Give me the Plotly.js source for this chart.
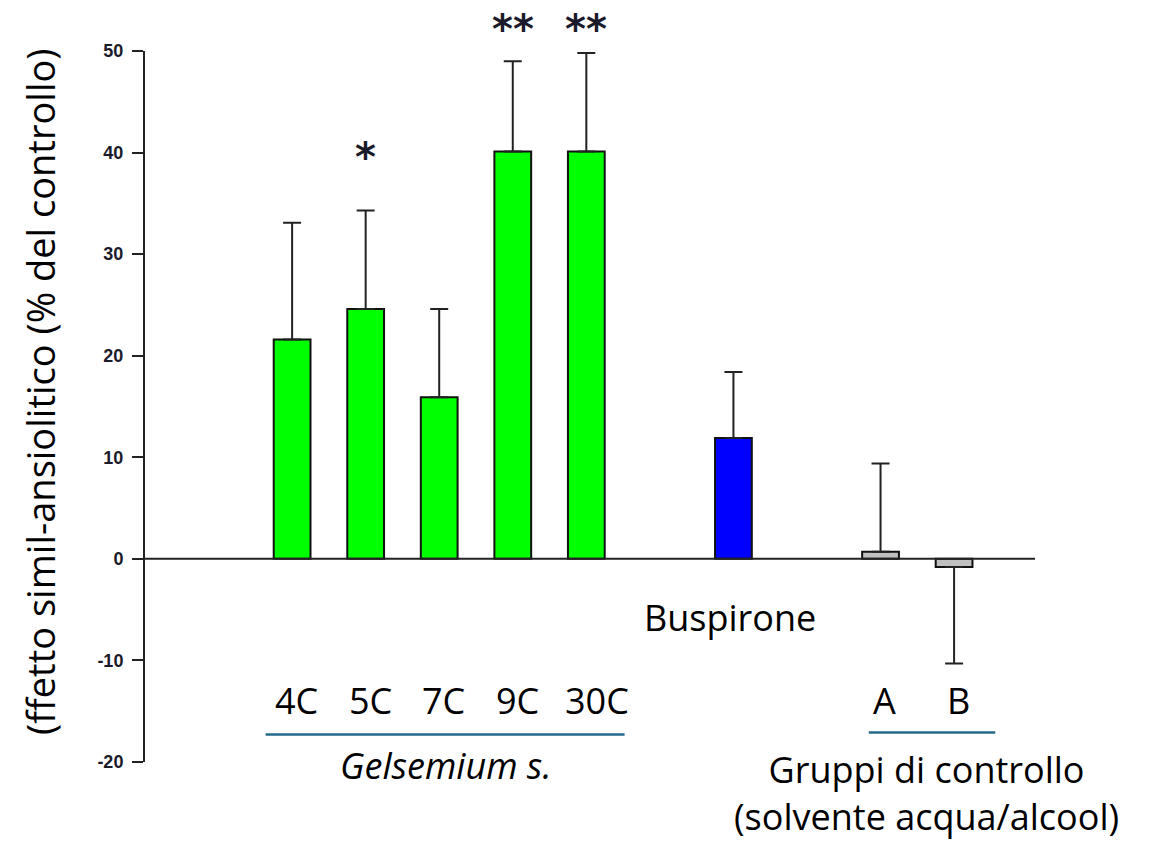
<!DOCTYPE html>
<html>
<head>
<meta charset="utf-8">
<script src="https://cdn.plot.ly/plotly-3.0.1.min.js"></script>
<style>html,body{margin:0;padding:0;background:#fff;}#chart{width:1158px;height:845px;}</style>
</head>
<body>
<div id="chart"></div>
<script>
// ---- data ----
const groups = ["4C", "5C", "7C", "9C", "30C", "Buspirone", "A", "B"];
const slotIndex = [0, 1, 2, 3, 4, 6, 8, 9];
const values = [21.6, 24.6, 15.9, 40.1, 40.1, 11.9, 0.7, -0.8];
const errUp = [11.5, 9.7, 8.7, 8.9, 9.7, 6.5, 8.7, 0];
const errDown = [0, 0, 0, 0, 0, 0, 0, 9.5];
const barColors = ["#00ff00", "#00ff00", "#00ff00", "#00ff00", "#00ff00", "#0000ff", "#c0c0c0", "#c0c0c0"];
const significance = ["", "*", "", "**", "**", "", "", ""];
const yTicks = [-20, -10, 0, 10, 20, 30, 40, 50];
const yTitle = "(ffetto simil-ansiolitico (% del controllo)";
const gelsemiumLabel = "Gelsemium s.";
const controlLabel = ["Gruppi di controllo", "(solvente acqua/alcool)"];

const FONT = "Open Sans, Noto Sans, sans-serif";
const LBL = 36;
const Y0 = -20, Y1 = 50;
const plotL = 145, plotR = 1035, plotT = 51, plotB = 762;
const pxY = p => (plotB - p) / (plotB - plotT);  // pixel y -> paper y
const pxX = p => (p - plotL) / (plotR - plotL);  // pixel x -> paper x

const trace = {
  type: "bar",
  x: slotIndex,
  y: values,
  width: 0.5,
  marker: {color: barColors, line: {color: "#111", width: 2}},
  error_y: {type: "data", symmetric: false, array: errUp, arrayminus: errDown,
            color: "#222", thickness: 2, width: 9},
  hoverinfo: "skip"
};

const ann = (o) => Object.assign({showarrow: false, xanchor: "center", yanchor: "middle"}, o);
const annotations = [];
groups.forEach((g, i) => {
  if (g === "Buspirone") {
    annotations.push(ann({x: slotIndex[i] - 0.04, y: pxY(617), xref: "x", yref: "paper", text: g,
      font: {family: FONT, size: LBL, color: "#000"}}));
  } else {
    annotations.push(ann({x: slotIndex[i] + (g === "30C" ? 0.14 : 0.06), y: pxY(700), xref: "x", yref: "paper", text: g,
      font: {family: FONT, size: LBL, color: "#000"}}));
  }
  if (significance[i]) {
    annotations.push(ann({x: slotIndex[i], y: significance[i].length > 1 ? pxY(29) : pxY(157), xref: "x", yref: "paper",
      text: "<b>" + significance[i] + "</b>",
      font: {family: "DejaVu Sans, sans-serif", size: 40, color: "#1a1a2a"}}));
  }
});
annotations.push(ann({x: 2.08, y: pxY(765), xref: "x", yref: "paper", text: "<i>" + gelsemiumLabel + "</i>",
  font: {family: FONT, size: LBL, color: "#000"}}));
annotations.push(ann({x: 8.62, y: pxY(793), xref: "x", yref: "paper", text: controlLabel.join("<br>"),
  font: {family: FONT, size: LBL, color: "#000"}}));
annotations.push(ann({x: pxX(40), y: pxY(392), xref: "paper", yref: "paper", text: yTitle, textangle: -90,
  font: {family: FONT, size: 38, color: "#000"}}));

const shapes = [
  {type: "line", xref: "x", yref: "y", x0: -0.36, x1: 4.52, y0: -17.3, y1: -17.3, line: {color: "#236a8a", width: 2.5}},
  {type: "line", xref: "x", yref: "y", x0: 7.84, x1: 9.56, y0: -17.1, y1: -17.1, line: {color: "#236a8a", width: 2.5}},
  {type: "line", xref: "paper", yref: "y", x0: 0, x1: 1, y0: 0, y1: 0, line: {color: "#222", width: 2}}
];

const layout = {
  width: 1158, height: 845,
  margin: {l: plotL, r: 1158 - plotR, t: plotT, b: 845 - plotB, pad: 0},
  paper_bgcolor: "#fff", plot_bgcolor: "#fff",
  showlegend: false,
  xaxis: {range: [-2.0, 10.1], showgrid: false, zeroline: false, showline: false, showticklabels: false, ticks: ""},
  yaxis: {range: [Y0, Y1], tickvals: yTicks, ticktext: yTicks.map(String), ticks: "outside", ticklen: 11,
          tickwidth: 2, tickcolor: "#222", showline: true, linecolor: "#222", linewidth: 2, showgrid: false,
          zeroline: false, ticklabelstandoff: 5,
          tickfont: {family: "Liberation Sans, Arial, sans-serif", size: 18, color: "#1a1a2a", weight: "bold"}},
  annotations: annotations,
  shapes: shapes
};

Plotly.newPlot("chart", [trace], layout, {staticPlot: true, displayModeBar: false});
</script>
</body>
</html>
